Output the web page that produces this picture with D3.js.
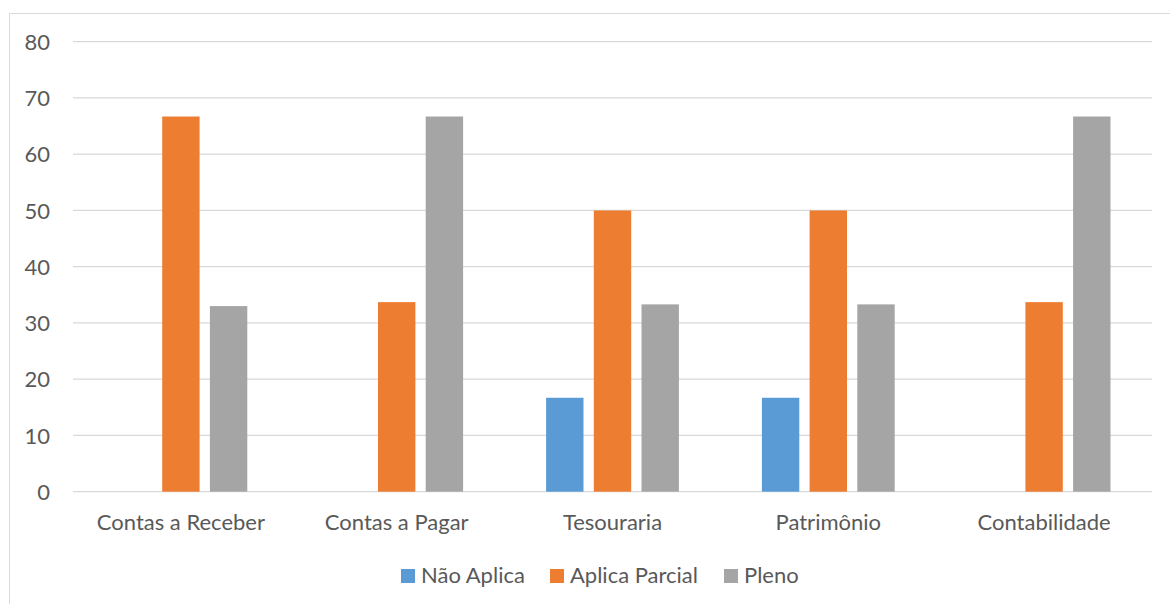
<!DOCTYPE html>
<html>
<head>
<meta charset="utf-8">
<script src="https://cdn.jsdelivr.net/npm/d3@7"></script>
<style>
  html, body { margin: 0; padding: 0; background: #ffffff; }
  svg { display: block; }
  text { font-family: Lato, "Open Sans", sans-serif; fill: #595959; }
</style>
</head>
<body>
<script>
// Categories, series and values for the grouped bar chart
const categories = ["Contas a Receber", "Contas a Pagar", "Tesouraria", "Patrimônio", "Contabilidade"];
const seriesNames = ["Não Aplica", "Aplica Parcial", "Pleno"];
const naoAplica = [0, 0, 16.7, 16.7, 0];
const aplicaParcial = [66.7, 33.7, 50, 50, 33.7];
const pleno = [33.0, 66.7, 33.3, 33.3, 66.7];
const seriesColors = ["#5b9bd5", "#ed7d31", "#a5a5a5"];
const yTicks = [0, 10, 20, 30, 40, 50, 60, 70, 80];

const seriesValues = [naoAplica, aplicaParcial, pleno];

const W = 1170, H = 604;
const plot = { left: 73, right: 1152, top: 41.7, bottom: 491.7 };
const fontSize = 22;

const svg = d3.select("body").append("svg")
  .attr("width", W).attr("height", H);

// chart frame
svg.append("path")
  .attr("d", `M9.5,${H} V13.5 H${W}`)
  .attr("fill", "none")
  .attr("stroke", "#d9d9d9")
  .attr("stroke-width", 1);

const y = d3.scaleLinear().domain([0, 80]).range([plot.bottom, plot.top]);
const x0 = d3.scaleBand().domain(categories).range([plot.left, plot.right]).padding(0);
const groupPad = 41.5;
const x1 = d3.scaleBand().domain(seriesNames)
  .range([groupPad, x0.bandwidth() - groupPad])
  .paddingInner(0.216).paddingOuter(0);

// horizontal gridlines
svg.append("g").selectAll("line").data(yTicks).join("line")
  .attr("x1", plot.left).attr("x2", plot.right)
  .attr("y1", d => y(d)).attr("y2", d => y(d))
  .attr("stroke", "#d9d9d9").attr("stroke-width", 1.3);

// y axis labels
const yAxis = d3.axisLeft(y).tickValues(yTicks).tickSize(0).tickPadding(0);
const gy = svg.append("g").attr("transform", "translate(50,0)").call(yAxis);
gy.select(".domain").remove();
gy.selectAll("text")
  .attr("font-size", fontSize)
  .style("font-family", "Lato, sans-serif")
  .attr("fill", "#595959")
  .attr("dy", "0.35em");

// bars
const groups = svg.append("g").selectAll("g").data(categories).join("g")
  .attr("transform", d => `translate(${x0(d)},0)`);

groups.selectAll("rect")
  .data((c, i) => seriesNames.map((s, j) => ({ s, j, v: seriesValues[j][i] })))
  .join("rect")
  .filter(d => d.v > 0)
  .attr("x", d => x1(d.s))
  .attr("width", x1.bandwidth())
  .attr("y", d => y(d.v))
  .attr("height", d => y(0) - y(d.v))
  .attr("fill", d => seriesColors[d.j]);

// category axis labels
const xAxis = d3.axisBottom(x0).tickSize(0).tickPadding(0);
const gx = svg.append("g").attr("transform", `translate(0,${plot.bottom})`).call(xAxis);
gx.select(".domain").remove();
gx.selectAll("text")
  .attr("font-size", fontSize)
  .style("font-family", "Lato, sans-serif")
  .attr("fill", "#595959")
  .attr("y", 38.8)
  .attr("dy", 0);

// legend
const legendItems = [
  { name: seriesNames[0], color: seriesColors[0], x: 401 },
  { name: seriesNames[1], color: seriesColors[1], x: 550 },
  { name: seriesNames[2], color: seriesColors[2], x: 724 }
];
const lg = svg.append("g").selectAll("g").data(legendItems).join("g")
  .attr("transform", d => `translate(${d.x},569)`);
lg.append("rect").attr("width", 14).attr("height", 14).attr("fill", d => d.color);
lg.append("text").attr("x", 20).attr("y", 14.3)
  .attr("font-size", fontSize)
  .text(d => d.name);
</script>
</body>
</html>
